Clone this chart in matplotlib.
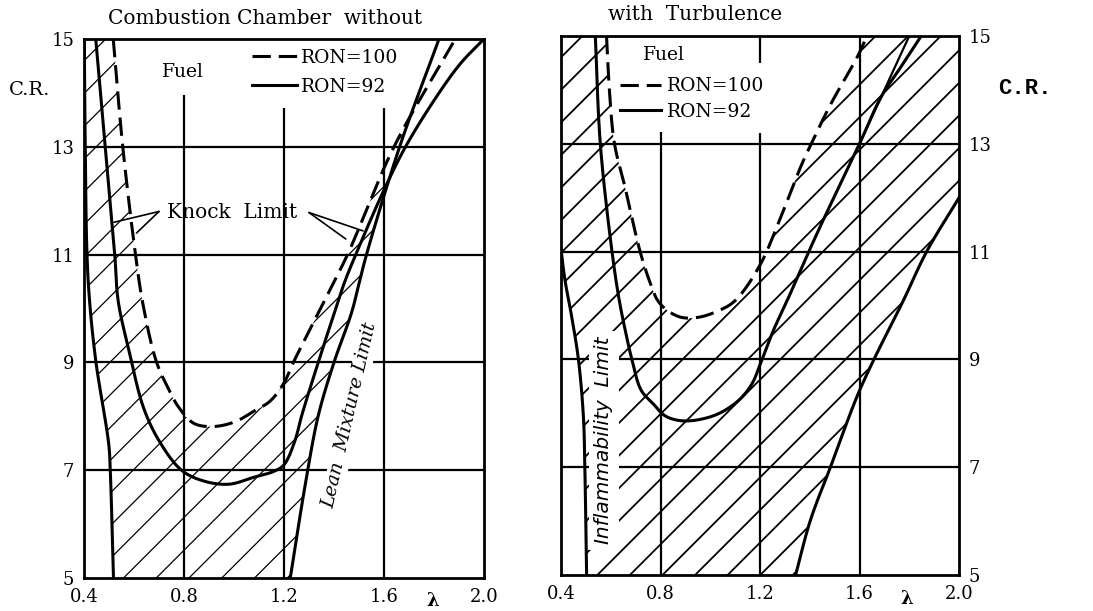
import numpy as np
import matplotlib
matplotlib.use("Agg")
import matplotlib.pyplot as plt
from matplotlib.patches import Polygon

plt.rcParams["font.family"] = ["DejaVu Serif"]

X_TICKS = [0.4, 0.8, 1.2, 1.6, 2.0]
X_TICK_LABELS = ["0.4", "0.8", "1.2", "1.6", "2.0"]
Y_TICKS = [5, 7, 9, 11, 13, 15]
Y_TICK_LABELS = ["5", "7", "9", "11", "13", "15"]

# left panel: combustion chamber without turbulence (lambda, C.R.)
NT_RICH_X = [0.401, 0.405, 0.412, 0.423, 0.448, 0.499, 0.505, 0.518]
NT_RICH_Y = [15.0, 13.0, 11.0, 10.1, 9.0, 7.48, 7.0, 5.0]

NT_RON92_X = [0.447, 0.485, 0.523, 0.537, 0.581, 0.638, 0.701, 0.79, 0.878,
              0.98, 1.08, 1.16, 1.2, 1.244, 1.27, 1.337, 1.4, 1.44,
              1.487, 1.6, 1.686, 1.8, 1.905, 2.0]
NT_RON92_Y = [15.0, 13.0, 11.0, 10.13, 9.2, 8.16, 7.54, 7.0, 6.8,
              6.74, 6.87, 6.98, 7.1, 7.55, 8.0, 9.0, 9.9, 10.46,
              11.0, 12.2, 13.0, 13.86, 14.54, 15.0]

NT_RON100_X = [0.517, 0.555, 0.606, 0.635, 0.689, 0.739, 0.777, 0.839, 0.916,
               1.005, 1.081, 1.144, 1.2, 1.2375, 1.3375, 1.454, 1.64, 1.885]
NT_RON100_Y = [15.0, 13.0, 11.0, 10.1, 9.02, 8.5, 8.18, 7.87, 7.81,
               7.9, 8.1, 8.28, 8.62, 9.0, 9.92, 11.0, 13.0, 15.0]

NT_LEAN_X = [1.225, 1.2875, 1.3375, 1.4, 1.47, 1.5, 1.53, 1.6625, 1.82]
NT_LEAN_Y = [5.0, 6.8, 8.02, 9.0, 9.92, 10.46, 11.0, 13.0, 15.0]

# right panel: with turbulence
T_INFL_X = [0.4, 0.415, 0.443, 0.47, 0.49, 0.496, 0.503]
T_INFL_Y = [11.05, 10.5, 9.79, 9.0, 7.94, 6.95, 5.0]

T_RON92_X = [0.538, 0.558, 0.605, 0.634, 0.661, 0.685, 0.722, 0.77, 0.816,
             0.87, 0.938, 1.032, 1.114, 1.168, 1.2, 1.254, 1.31, 1.433,
             1.6, 1.687, 1.767, 1.848]
T_RON92_Y = [15.0, 13.0, 11.0, 10.1, 9.48, 9.0, 8.43, 8.18, 7.96,
             7.87, 7.87, 7.99, 8.24, 8.55, 8.9, 9.54, 10.1, 11.375,
             13.0, 13.87, 14.43, 15.0]

T_UPPER_X = [1.6, 1.7, 1.8]
T_UPPER_Y = [13.0, 14.0, 15.0]

T_RON100_X = [0.583, 0.596, 0.615, 0.657, 0.718, 0.76, 0.789, 0.83, 0.884,
              0.951, 1.032, 1.1, 1.2, 1.28, 1.366, 1.406, 1.486, 1.59, 1.63]
T_RON100_Y = [15.0, 13.9, 13.0, 12.2, 11.0, 10.4, 10.09, 9.9, 9.78,
              9.78, 9.9, 10.09, 10.75, 11.6, 12.6, 13.0, 13.75, 14.6, 15.0]

T_LEAN_X = [1.343, 1.403, 1.483, 1.589, 1.656, 1.776, 1.87, 2.0]
T_LEAN_Y = [5.0, 6.02, 7.0, 8.3, 8.98, 10.09, 11.0, 12.0]

DASH = (0, (6, 2.6))
CURVE_LW = 2.2
GRID_LW = 1.6
ASPECT = 4.63  # C.R. units per lambda unit that look square on the page


def smooth(x, y, n=12):
    # centripetal Catmull-Rom through the read points (drawing only)
    p = np.column_stack([np.asarray(x, float) * ASPECT, np.asarray(y, float)])
    p = np.vstack([2 * p[0] - p[1], p, 2 * p[-1] - p[-2]])
    out = []
    for i in range(1, len(p) - 2):
        p0, p1, p2, p3 = p[i - 1], p[i], p[i + 1], p[i + 2]
        t0 = 0.0
        t1 = t0 + np.linalg.norm(p1 - p0) ** 0.5 + 1e-9
        t2 = t1 + np.linalg.norm(p2 - p1) ** 0.5 + 1e-9
        t3 = t2 + np.linalg.norm(p3 - p2) ** 0.5 + 1e-9
        t = np.linspace(t1, t2, n, endpoint=False)[:, None]
        a1 = (t1 - t) / (t1 - t0) * p0 + (t - t0) / (t1 - t0) * p1
        a2 = (t2 - t) / (t2 - t1) * p1 + (t - t1) / (t2 - t1) * p2
        a3 = (t3 - t) / (t3 - t2) * p2 + (t - t2) / (t3 - t2) * p3
        b1 = (t2 - t) / (t2 - t0) * a1 + (t - t0) / (t2 - t0) * a2
        b2 = (t3 - t) / (t3 - t1) * a2 + (t - t1) / (t3 - t1) * a3
        out.append((t2 - t) / (t2 - t1) * b1 + (t - t1) / (t2 - t1) * b2)
    out.append(p[-2][None, :])
    out = np.vstack(out)
    return out[:, 0] / ASPECT, out[:, 1]


def draw_hatch(ax, verts, anchor, step, lw):
    clip = Polygon(verts, closed=True, facecolor="none", edgecolor="none")
    ax.add_patch(clip)
    fig = ax.figure
    bb = ax.get_position()
    w_px = bb.width * fig.get_figwidth() * fig.dpi
    h_px = bb.height * fig.get_figheight() * fig.dpi
    x0, x1 = ax.get_xlim()
    y0, y1 = ax.get_ylim()
    k = (w_px / (x1 - x0)) / (h_px / (y1 - y0))
    span = (y1 - y0) / k
    first = anchor - step * np.ceil((anchor - x0 + span) / step)
    for s in np.arange(first, x1 + step, step):
        ln, = ax.plot([s, s + span], [y0, y1], color="black", lw=lw, zorder=1)
        ln.set_clip_path(clip)


def left_region():
    rx, ry = smooth(NT_RICH_X, NT_RICH_Y)
    dx, dy = smooth(NT_RON100_X, NT_RON100_Y)
    lx, ly = smooth(NT_LEAN_X, NT_LEAN_Y)
    imin = int(np.argmin(dy))
    yy = np.linspace(dy[imin], 15.0, 3001)
    xd = np.interp(yy, dy[imin:], dx[imin:])
    xl = np.interp(yy, ly, lx)
    hit = np.nonzero(xd >= xl)[0]
    y_int = yy[hit[0]] if len(hit) else 15.0
    x_int = np.interp(y_int, dy[imin:], dx[imin:])
    verts = list(zip(rx, ry))[::-1]
    verts += list(zip(dx[:imin + 1], dy[:imin + 1]))
    verts += [(x, y) for x, y in zip(dx[imin + 1:], dy[imin + 1:]) if y < y_int]
    verts += [(x_int, y_int)]
    lean = [(x, y) for x, y in zip(lx, ly) if y < y_int]
    verts += lean[::-1]
    return verts


def right_region():
    ix, iy = smooth(T_INFL_X, T_INFL_Y)
    dx, dy = smooth(T_RON100_X, T_RON100_Y)
    lx, ly = smooth(T_LEAN_X, T_LEAN_Y)
    verts = list(zip(ix, iy))[::-1]
    verts += [(0.4, 15.0)]
    verts += list(zip(dx, dy))
    verts += [(2.0, 15.0)]
    verts += list(zip(lx, ly))[::-1]
    return verts


def setup_axes(ax):
    ax.set_xlim(0.4, 2.0)
    ax.set_ylim(5, 15)
    ax.set_xticks(X_TICKS)
    ax.set_xticklabels(X_TICK_LABELS)
    ax.set_yticks(Y_TICKS)
    ax.set_yticklabels(Y_TICK_LABELS)
    ax.tick_params(length=0, labelsize=13, pad=7)
    for sp in ax.spines.values():
        sp.set_linewidth(2.0)


fig = plt.figure(figsize=(10.93, 6.11), dpi=100)
ax1 = fig.add_axes([84 / 1093, 1 - 578 / 611, 400 / 1093, 539 / 611])
ax2 = fig.add_axes([561 / 1093, 1 - 575 / 611, 398 / 1093, 539 / 611])
setup_axes(ax1)
setup_axes(ax2)
ax2.yaxis.tick_right()

# grid lines (vertical ones stop below the legend area)
for ax in (ax1, ax2):
    ax.hlines([7, 9, 11, 13], 0.4, 2.0, color="black", lw=GRID_LW, zorder=2)
ax1.vlines([0.8, 1.2, 1.6], 5, [13.96, 13.72, 13.72], color="black", lw=GRID_LW, zorder=2)
ax2.vlines([0.8, 1.2, 1.6], 5, [13.22, 13.2, 15.0], color="black", lw=GRID_LW, zorder=2)
ax2.vlines([1.2], 14.5, 15.0, color="black", lw=GRID_LW, zorder=2)

# hatched operating regions
draw_hatch(ax1, left_region(), anchor=0.82, step=0.131, lw=0.9)
draw_hatch(ax2, right_region(), anchor=0.546, step=0.131, lw=1.3)

# left panel curves
ax1.plot(*smooth(NT_RICH_X, NT_RICH_Y), color="black", lw=CURVE_LW, zorder=3)
l92, = ax1.plot(*smooth(NT_RON92_X, NT_RON92_Y), color="black", lw=CURVE_LW, zorder=3)
l100, = ax1.plot(*smooth(NT_RON100_X, NT_RON100_Y), color="black", lw=CURVE_LW,
                 ls=DASH, zorder=3)
ax1.plot(*smooth(NT_LEAN_X, NT_LEAN_Y), color="black", lw=CURVE_LW, zorder=3)

# right panel curves
ax2.plot(*smooth(T_INFL_X, T_INFL_Y), color="black", lw=CURVE_LW, zorder=3)
r92, = ax2.plot(*smooth(T_RON92_X, T_RON92_Y), color="black", lw=CURVE_LW, zorder=3)
ax2.plot(*smooth(T_UPPER_X, T_UPPER_Y), color="black", lw=1.6, zorder=3)
r100, = ax2.plot(*smooth(T_RON100_X, T_RON100_Y), color="black", lw=CURVE_LW,
                 ls=DASH, zorder=3)
ax2.plot(*smooth(T_LEAN_X, T_LEAN_Y), color="black", lw=CURVE_LW, zorder=3)

# legends
ax1.text(0.796, 14.39, "Fuel", fontsize=13.5, ha="center", va="center")
ax1.legend([l100, l92], ["RON=100", "RON=92"], loc="upper left",
           bbox_to_anchor=(0.40, 0.996), frameon=False, fontsize=13.5,
           handlelength=2.4, handletextpad=0.25, labelspacing=0.6,
           borderaxespad=0.0)
ax2.text(0.814, 14.65, "Fuel", fontsize=13.5, ha="center", va="center")
ax2.legend([r100, r92], ["RON=100", "RON=92"], loc="upper left",
           bbox_to_anchor=(0.13, 0.937), frameon=False, fontsize=13.5,
           handlelength=2.2, handletextpad=0.3, labelspacing=0.4,
           borderaxespad=0.0)

# annotations
ax1.text(0.992, 11.79, "Knock  Limit", fontsize=14.5, ha="center", va="center")
arrow = dict(arrowstyle="-", lw=1.2, color="black", shrinkA=0, shrinkB=0)
ax1.annotate("", xy=(0.52, 11.6), xytext=(0.70, 11.80), arrowprops=arrow)
ax1.annotate("", xy=(0.61, 11.4), xytext=(0.70, 11.80), arrowprops=arrow)
ax1.annotate("", xy=(1.447, 11.29), xytext=(1.30, 11.78), arrowprops=arrow)
ax1.annotate("", xy=(1.516, 11.44), xytext=(1.30, 11.78), arrowprops=arrow)

ax1.text(1.465, 8.02, "Lean  Mixture Limit", fontsize=13.5, style="italic",
         rotation=77, ha="center", va="center", rotation_mode="anchor",
         zorder=2.5, bbox=dict(facecolor="white", edgecolor="none", pad=1.0))
ax2.text(0.572, 7.5, "Inflammability  Limit", fontsize=14.5,
         family="DejaVu Sans", style="italic", rotation=90,
         ha="center", va="center", zorder=2.5,
         bbox=dict(facecolor="white", edgecolor="none", pad=4.0))

# titles and axis captions
fig.text(265 / 1093, 1 - 18 / 611, "Combustion Chamber  without",
         fontsize=14.5, ha="center", va="center")
fig.text(695 / 1093, 1 - 15 / 611, "with  Turbulence",
         fontsize=14.5, ha="center", va="center")
fig.text(30 / 1093, 1 - 90 / 611, "C.R.", fontsize=14, ha="center", va="center")
fig.text(1025 / 1093, 1 - 88 / 611, "C.R.", fontsize=16, family="Liberation Mono",
         weight="bold", ha="center", va="center")
fig.text(433 / 1093, 1 - 601 / 611, "λ", fontsize=13, weight="bold",
         ha="center", va="center")
fig.text(907 / 1093, 1 - 599 / 611, "λ", fontsize=13, weight="bold",
         ha="center", va="center")

fig.savefig("out.png", dpi=100)
